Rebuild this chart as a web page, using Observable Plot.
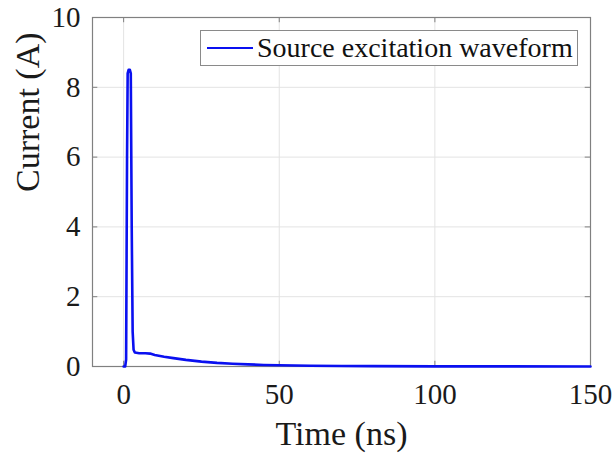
<!DOCTYPE html>
<html>
<head>
<meta charset="utf-8">
<script src="https://cdn.jsdelivr.net/npm/d3@7"></script>
<script src="https://cdn.jsdelivr.net/npm/@observablehq/plot@0.6"></script>
<style>
  html, body { margin: 0; padding: 0; background: #fff; }
  #wrap { position: relative; width: 616px; height: 453px; }
  #legend {
    position: absolute; left: 200px; top: 30px; width: 378px; height: 36px;
    border: 1px solid #8a8a8a; background: #fff; box-sizing: border-box;
    font-family: "Liberation Serif", "Times New Roman", serif; font-size: 28px;
    display: flex; align-items: center; color: #111; white-space: nowrap;
  }
  #legend .sw { width: 46px; height: 0; border-top: 2.5px solid #0a10f0; margin: 0 4px 0 6px; }
</style>
</head>
<body>
<div id="wrap"></div>
<script>
// Time (ns)
const timeNs = [0, 0.5, 0.8, 1.1, 1.3, 1.6, 2.0, 2.3, 2.6, 2.9, 3.2, 3.6, 5, 7, 8.5, 10, 13, 16, 20, 25, 30, 35, 40, 45, 50, 60, 70, 80, 100, 120, 150];
// Current (A)
const currentA = [0, 0, 0.2, 6.0, 8.4, 8.5, 8.5, 8.4, 4.0, 1.0, 0.48, 0.40, 0.38, 0.38, 0.37, 0.33, 0.28, 0.24, 0.19, 0.14, 0.105, 0.08, 0.06, 0.045, 0.035, 0.022, 0.015, 0.01, 0.005, 0.003, 0.002];
const xTicks = [0, 50, 100, 150];
const yTicks = [0, 2, 4, 6, 8, 10];
const legendLabel = "Source excitation waveform";

const data = timeNs.map((t, i) => ({t, c: currentA[i]}));
const axisColor = "#808080";
const gridColor = "#e3e3e3";

const chart = Plot.plot({
  width: 616,
  height: 453,
  marginLeft: 92,
  marginRight: 26,
  marginTop: 17,
  marginBottom: 87,
  style: {fontFamily: "'Liberation Serif', 'Times New Roman', serif", fontSize: "29px", color: "#1a1a1a", background: "#fff"},
  x: {domain: [-10, 150], label: null},
  y: {domain: [0, 10], label: null},
  marks: [
    Plot.ruleX(xTicks, {x: d => d, stroke: gridColor, strokeWidth: 1}),
    Plot.ruleY(yTicks, {y: d => d, stroke: gridColor, strokeWidth: 1}),
    Plot.ruleX(xTicks, {x: d => d, y1: 0, y2: 0.15, stroke: axisColor}),
    Plot.ruleX(xTicks, {x: d => d, y1: 10, y2: 9.85, stroke: axisColor}),
    Plot.ruleY(yTicks, {y: d => d, x1: -10, x2: -8.3, stroke: axisColor}),
    Plot.ruleY(yTicks, {y: d => d, x1: 150, x2: 148.3, stroke: axisColor}),
    Plot.frame({stroke: axisColor, strokeWidth: 1.2}),
    Plot.line(data, {x: "t", y: "c", stroke: "#0a10f0", strokeWidth: 2.6, curve: "linear"}),
    Plot.axisX({ticks: xTicks, tickSize: 0, tickPadding: 17, label: null, fontSize: 29}),
    Plot.axisY({ticks: yTicks, tickSize: 0, tickPadding: 12, label: null, fontSize: 29}),
    Plot.text(["Time (ns)"], {frameAnchor: "bottom", dy: 78, fontSize: 34, fill: "#1a1a1a"}),
    Plot.text(["Current (A)"], {frameAnchor: "left", dx: -64, rotate: -90, fontSize: 34, fill: "#1a1a1a"})
  ]
});

const wrap = document.getElementById("wrap");
wrap.appendChild(chart);
const leg = document.createElement("div");
leg.id = "legend";
leg.innerHTML = '<span class="sw"></span><span>' + legendLabel + '</span>';
wrap.appendChild(leg);
</script>
</body>
</html>
